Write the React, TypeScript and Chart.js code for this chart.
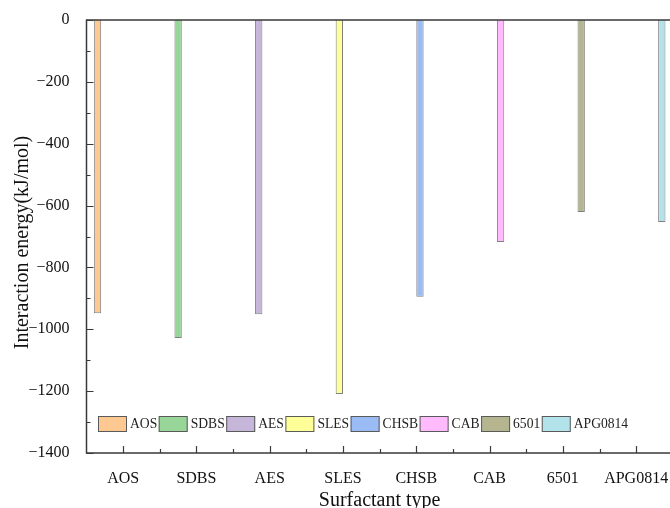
import React, { useEffect, useRef } from "react";
import { Chart, registerables } from "chart.js";

Chart.register(...registerables);

const categories = ["AOS", "SDBS", "AES", "SLES", "CHSB", "CAB", "6501", "APG0814"];
const energies = [-948, -1028, -951, -1209, -895, -718, -621, -653];
const barColors = [
  "#fec893",
  "#98d598",
  "#c6b6da",
  "#ffff99",
  "#9bbbf4",
  "#ffbbfe",
  "#b5b590",
  "#b2e3ea",
];
const yMin = -1400;
const yMax = 0;
const yMajorStep = 200;
const yMinorStep = 100;

const FONT = '"Liberation Serif", "Times New Roman", serif';

const framePlugin = {
  id: "framePlugin",
  afterDatasetsDraw(chart: any) {
    const { ctx, chartArea } = chart;
    const x = chart.scales.x;
    const y = chart.scales.y;
    const { left, right, top, bottom } = chartArea;
    ctx.save();
    ctx.strokeStyle = "#3a3a3a";
    ctx.lineWidth = 1.5;
    ctx.beginPath();
    ctx.moveTo(left, top);
    ctx.lineTo(chart.width, top);
    ctx.moveTo(left, top - 0.75);
    ctx.lineTo(left, bottom + 0.75);
    ctx.moveTo(left, bottom);
    ctx.lineTo(chart.width, bottom);
    ctx.stroke();
    ctx.lineWidth = 1.2;
    ctx.beginPath();
    for (let v = yMax; v >= yMin; v -= yMinorStep) {
      const py = Math.round(y.getPixelForValue(v)) + 0.5;
      const len = Math.abs(v) % yMajorStep === 0 ? 7 : 4;
      ctx.moveTo(left, py);
      ctx.lineTo(left + len, py);
    }
    const catW = (right - left) / categories.length;
    for (let i = 0; i < categories.length; i++) {
      const cx = Math.round(x.getPixelForValue(i)) + 0.5;
      ctx.moveTo(cx, bottom);
      ctx.lineTo(cx, bottom - 7);
      const mx = Math.round(left + catW * (i + 1)) + 0.5;
      ctx.moveTo(mx, bottom);
      ctx.lineTo(mx, bottom - 4);
    }
    ctx.stroke();
    ctx.restore();
  },
  afterDraw(chart: any) {
    const { ctx, chartArea } = chart;
    const { left, right, bottom, top } = chartArea;
    ctx.save();
    // legend
    ctx.font = `13.6px ${FONT}`;
    ctx.textBaseline = "middle";
    ctx.textAlign = "left";
    let lx = left + 11.5;
    const boxTop = bottom - 37;
    const bw = 29;
    const bh = 16;
    chart.data.datasets.forEach((ds: any) => {
      ctx.fillStyle = ds.backgroundColor;
      ctx.fillRect(lx, boxTop, bw, bh);
      ctx.strokeStyle = "#5a5a5a";
      ctx.lineWidth = 1;
      ctx.strokeRect(lx + 0.5, boxTop + 0.5, bw - 1, bh - 1);
      ctx.fillStyle = "#222";
      ctx.fillText(ds.label, lx + bw + 3, boxTop + bh / 2 + 0.5);
      lx += bw + 3 + ctx.measureText(ds.label).width + 1.5;
    });
    // axis titles
    ctx.fillStyle = "#111";
    ctx.font = `20px ${FONT}`;
    ctx.textBaseline = "alphabetic";
    ctx.textAlign = "center";
    ctx.fillText("Surfactant type", (left + right) / 2, 506);
    ctx.translate(28, (top + bottom) / 2 + 6);
    ctx.rotate(-Math.PI / 2);
    ctx.fillText("Interaction energy(kJ/mol)", 0, 0);
    ctx.restore();
  },
};

export default function App() {
  const canvasRef = useRef<HTMLCanvasElement | null>(null);

  useEffect(() => {
    if (!canvasRef.current) return;
    const datasets = categories.map((name, i) => ({
      label: name,
      data: categories.map((_, j) => (j === i ? energies[i] : null)),
      backgroundColor: barColors[i],
      borderColor: "#808080",
      borderWidth: 1,
      categoryPercentage: 0.8,
      barPercentage: 1.0,
    }));
    const chart = new Chart(canvasRef.current, {
      type: "bar",
      data: { labels: categories, datasets },
      options: {
        responsive: false,
        animation: false,
        layout: { padding: { top: 20, right: 17.2, left: 0, bottom: 0 } },
        plugins: {
          legend: { display: false },
          title: { display: false },
          tooltip: { enabled: false },
        },
        scales: {
          x: {
            type: "category",
            grid: { display: false },
            border: { display: false },
            ticks: {
              font: { family: FONT, size: 16 },
              color: "#111",
              padding: 8,
              maxRotation: 0,
              autoSkip: false,
            },
            afterFit: (s: any) => {
              s.height = 55;
            },
          },
          y: {
            min: yMin,
            max: yMax,
            grid: { display: false },
            border: { display: false },
            ticks: {
              stepSize: yMajorStep,
              font: { family: FONT, size: 16 },
              color: "#111",
              padding: 9,
              callback: (v: any) =>
                Number(v) < 0 ? "\u2212" + Math.abs(Number(v)) : String(v),
            },
            afterFit: (s: any) => {
              s.width = 86.5;
            },
          },
        },
      },
      plugins: [framePlugin],
    });
    return () => chart.destroy();
  }, []);

  return (
    <div
      style={{
        position: "absolute",
        left: 0,
        top: 0,
        width: 670,
        height: 508,
        overflow: "hidden",
        background: "#fff",
      }}
    >
      <canvas ref={canvasRef} width={690} height={508} style={{ display: "block" }} />
    </div>
  );
}
